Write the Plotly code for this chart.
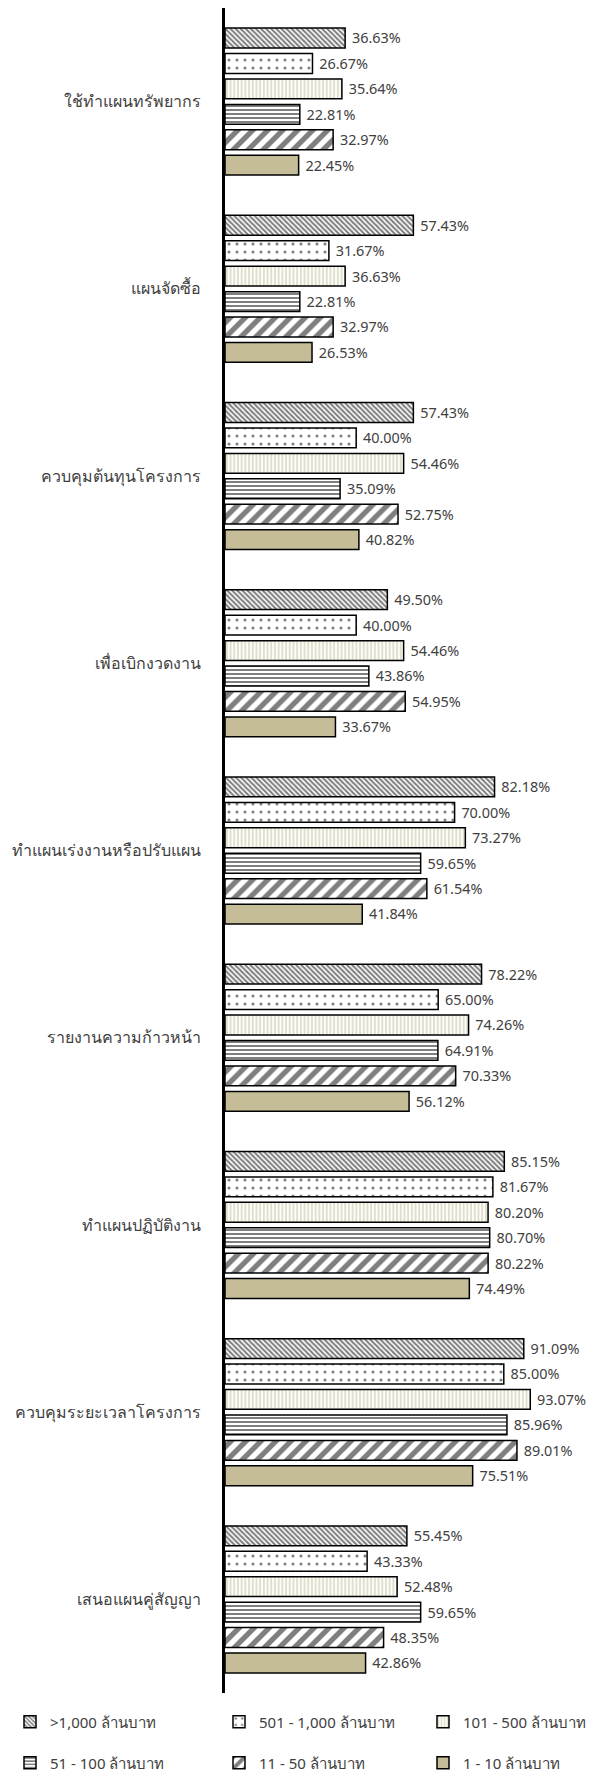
import plotly.graph_objects as go

categories = [
    "ใช้ทำแผนทรัพยากร",
    "แผนจัดซื้อ",
    "ควบคุมต้นทุนโครงการ",
    "เพื่อเบิกงวดงาน",
    "ทำแผนเร่งงานหรือปรับแผน",
    "รายงานความก้าวหน้า",
    "ทำแผนปฏิบัติงาน",
    "ควบคุมระยะเวลาโครงการ",
    "เสนอแผนคู่สัญญา",
]

series_names = [
    ">1,000 ล้านบาท",
    "501 - 1,000 ล้านบาท",
    "101 - 500 ล้านบาท",
    "51 - 100 ล้านบาท",
    "11 - 50 ล้านบาท",
    "1 - 10 ล้านบาท",
]

over_1000 = [36.63, 57.43, 57.43, 49.50, 82.18, 78.22, 85.15, 91.09, 55.45]
s501_1000 = [26.67, 31.67, 40.00, 40.00, 70.00, 65.00, 81.67, 85.00, 43.33]
s101_500 = [35.64, 36.63, 54.46, 54.46, 73.27, 74.26, 80.20, 93.07, 52.48]
s51_100 = [22.81, 22.81, 35.09, 43.86, 59.65, 64.91, 80.70, 85.96, 59.65]
s11_50 = [32.97, 32.97, 52.75, 54.95, 61.54, 70.33, 80.22, 89.01, 48.35]
s1_10 = [22.45, 26.53, 40.82, 33.67, 41.84, 56.12, 74.49, 75.51, 42.86]

series_values = [over_1000, s501_1000, s101_500, s51_100, s11_50, s1_10]

TAN = "#C4BD97"
patterns = [
    dict(shape="\\", fgcolor="black", bgcolor="white", size=3.6, solidity=0.55),
    dict(shape=".", fgcolor="black", bgcolor="white", size=8, solidity=0.12),
    dict(shape="|", fgcolor=TAN, bgcolor="white", size=3.7, solidity=0.55),
    dict(shape="-", fgcolor="black", bgcolor="white", size=4, solidity=0.5),
    dict(shape="/", fgcolor="black", bgcolor="white", size=10.6, solidity=0.5),
    None,
]
colors = ["white", "white", "white", "white", "white", TAN]

FONT = "Noto Sans, Leelawadee UI, Tahoma, sans-serif"
fig = go.Figure()
legend_ids = ["legend", "legend2", "legend3", "legend4", "legend5", "legend6"]
for i, (name, vals) in enumerate(zip(series_names, series_values)):
    marker = dict(color=colors[i], line=dict(color="black", width=1.5))
    if patterns[i] is not None:
        marker["pattern"] = patterns[i]
    fig.add_trace(go.Bar(
        y=categories, x=vals, name=name, orientation="h",
        marker=marker,
        texttemplate="\u00a0%{x:.2f}%", textposition="outside",
        textfont=dict(size=16, color="#404040", family=FONT),
        cliponaxis=False,
        legend=legend_ids[i],
    ))

# the page body has an 8px margin, so figure coords = page coords - 8
W, H = 597, 1768
ml, mr, mt, mb = 217, 52, 0, 83
pw = W - ml - mr
ph = H - mt - mb

def px_to_paper_x(px):
    return (px - ml) / pw

def px_to_paper_y(py):
    return (H - mb - py) / ph

col_x = [2, 211, 415]
row_y = [1714, 1755]
legend_layouts = {}
for i, lid in enumerate(legend_ids):
    legend_layouts[lid] = dict(
        x=px_to_paper_x(col_x[i % 3]), y=px_to_paper_y(row_y[i // 3]),
        xanchor="left", yanchor="middle", orientation="h",
        font=dict(size=15, color="#404040", family=FONT),
        bgcolor="rgba(0,0,0,0)", itemwidth=30,
    )

fig.update_layout(
    width=W, height=H,
    margin=dict(l=ml, r=mr, t=mt, b=mb, autoexpand=False),
    plot_bgcolor="white", paper_bgcolor="white",
    barmode="group", bargap=0.185, bargroupgap=0.22,
    showlegend=True,
    xaxis=dict(range=[0, 100], visible=False),
    yaxis=dict(
        autorange="reversed", showline=True, linecolor="black", linewidth=2.5,
        ticks="", ticklabelstandoff=18,
        tickfont=dict(size=16, color="#404040", family=FONT),
        showgrid=False, zeroline=False,
    ),
    **legend_layouts,
)

fig.write_html("out.html")
